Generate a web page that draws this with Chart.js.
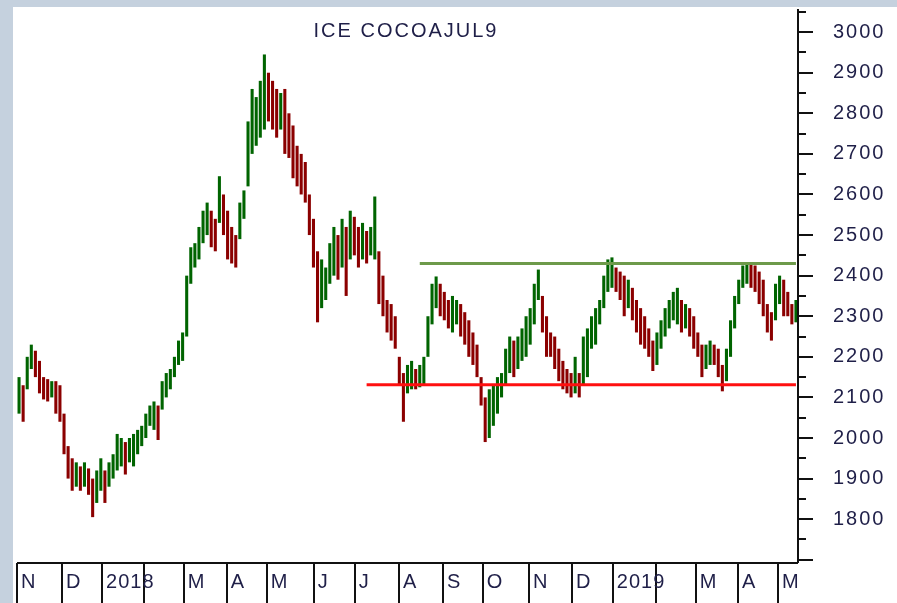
<!DOCTYPE html>
<html>
<head>
<meta charset="utf-8">
<script src="https://cdn.jsdelivr.net/npm/chart.js@4/dist/chart.umd.min.js"></script>
<style>
  html, body { margin: 0; padding: 0; background: #c5d1de; }
  canvas { display: block; }
</style>
</head>
<body>
<canvas id="cocoaChart" width="897" height="603"></canvas>
<script>
// ===== DATA (one bar = ~2 trading days) =====
const chartTitle = 'ICE COCOAJUL9';

const barLows = [
  2060, 2040, 2120, 2170, 2150, 2110, 2095, 2090, 2100, 2060,
  2040, 1960, 1900, 1870, 1880, 1870, 1880, 1860, 1805, 1840,
  1870, 1840, 1880, 1900, 1920, 1930, 1910, 1940, 1930, 1960,
  1980, 2000, 2030, 2020, 1995, 2070, 2100, 2120, 2150, 2180,
  2190, 2250, 2380, 2420, 2440, 2480, 2500, 2470, 2460, 2530,
  2500, 2440, 2430, 2420, 2490, 2540, 2620, 2700, 2720, 2740,
  2760, 2780, 2760, 2740, 2760, 2700, 2690, 2640, 2620, 2600,
  2580, 2500, 2420, 2285, 2320, 2340, 2380, 2400, 2390, 2420,
  2350, 2440, 2450, 2420, 2440, 2430, 2450, 2440, 2330, 2300,
  2260, 2240, 2220, 2130, 2040, 2110, 2120, 2120, 2125, 2130,
  2200, 2280, 2320, 2300, 2290, 2270, 2260, 2280, 2250, 2230,
  2200, 2180, 2150, 2080, 1990, 2000, 2030, 2060, 2100, 2130,
  2160, 2150, 2170, 2190, 2200, 2230, 2280, 2340, 2260, 2200,
  2200, 2170, 2140, 2120, 2110, 2100, 2110, 2100, 2130, 2150,
  2220, 2230, 2280, 2320, 2360, 2370, 2360, 2340, 2300, 2320,
  2290, 2260, 2230, 2220, 2200, 2165, 2180, 2220, 2250, 2270,
  2290, 2280, 2260, 2270, 2250, 2220, 2200, 2150, 2170, 2180,
  2180, 2150, 2115, 2140, 2200, 2270, 2330, 2370, 2380, 2370,
  2360, 2330, 2300, 2260, 2240, 2290, 2330, 2300, 2300, 2280,
  2285
];

const barHighs = [
  2150, 2130, 2200, 2230, 2215, 2190, 2150, 2145, 2140, 2140,
  2130, 2060, 1980, 1950, 1940, 1930, 1940, 1925, 1900, 1920,
  1950, 1920, 1940, 1960, 2010, 2000, 1990, 2000, 2010, 2020,
  2030, 2060, 2080, 2090, 2080, 2140, 2160, 2170, 2200, 2240,
  2260, 2400, 2470, 2480, 2520, 2560, 2580, 2560, 2540, 2645,
  2600, 2560, 2520, 2500, 2580, 2610, 2780, 2860, 2840, 2880,
  2945, 2900, 2880, 2860, 2850, 2860, 2800, 2770, 2720, 2700,
  2680, 2600, 2540, 2460, 2440, 2420, 2480, 2520, 2500, 2540,
  2520, 2560, 2545, 2520, 2530, 2510, 2520, 2595, 2460, 2400,
  2340, 2330, 2300, 2200, 2160, 2180, 2190, 2170, 2180, 2200,
  2300, 2380, 2398, 2380, 2360, 2340, 2350, 2340, 2330, 2310,
  2290, 2260, 2230, 2150, 2100, 2120, 2130, 2150, 2160, 2220,
  2250, 2240, 2250, 2270, 2300, 2320, 2380, 2415, 2350, 2300,
  2260, 2250, 2220, 2190, 2170, 2160, 2200, 2160, 2250, 2270,
  2300, 2320, 2340, 2400, 2440, 2445, 2420, 2410, 2400, 2390,
  2370, 2340, 2320, 2300, 2270, 2240, 2260, 2290, 2320, 2340,
  2360, 2370, 2340, 2330, 2320, 2300, 2260, 2230, 2230, 2240,
  2230, 2220, 2180, 2220, 2290, 2350, 2390, 2425, 2432, 2430,
  2425, 2410, 2390, 2330, 2310, 2380, 2400, 2390, 2360, 2330,
  2340
];

// month boundaries, in bar slots from the left edge
const monthStarts = [0, 11.0, 20.8, 31.05, 40.8, 51.3, 61.1, 72.6, 82.6, 93.4,
                     104.2, 113.9, 125.2, 135.7, 145.7, 156.2, 166.0, 176.3, 186.1];
const monthLabels = ['N', 'D', '2018', '', 'M', 'A', 'M', 'J', 'J', 'A',
                     'S', 'O', 'N', 'D', '2019', '', 'M', 'A', 'M'];

// horizontal levels drawn on the chart
const supportLevel = 2131;
const supportStart = 85;
const resistanceLevel = 2430;
const resistanceStart = 98;

// ===== SETUP =====
const labels = barLows.map((_, i) => String(i));
const ranges = barLows.map((lo, i) => [lo, barHighs[i]]);
const barColors = ranges.map((r, i) => {
    if (i === 0) return '#006400';
    const mid = (r[0] + r[1]) / 2;
    const prev = (ranges[i - 1][0] + ranges[i - 1][1]) / 2;
    return mid >= prev ? '#006400' : '#8b0000';
});
const supportData = labels.map((_, i) => i >= supportStart ? supportLevel : null);
const resistanceData = labels.map((_, i) => i >= resistanceStart ? resistanceLevel : null);

const FONT = '"Liberation Sans", Arial, sans-serif';
const TEXT_COLOR = '#1f1f48';

// background, frame, axes, month band
const framePlugin = {
    id: 'frame',
    beforeDraw(chart) {
        const ctx = chart.ctx;
        ctx.save();
        ctx.fillStyle = '#c5d1de';
        ctx.fillRect(0, 0, chart.width, chart.height);
        ctx.fillStyle = '#ffffff';
        ctx.fillRect(13, 7, chart.width - 13, chart.height - 7);
        ctx.restore();
        ctx.letterSpacing = '2px';
    },
    afterDraw(chart) {
        const ctx = chart.ctx;
        const area = chart.chartArea;
        const x = chart.scales.x;
        const y = chart.scales.y;
        ctx.save();
        ctx.strokeStyle = '#111111';
        ctx.lineWidth = 2;

        // right axis line + ticks
        ctx.beginPath();
        ctx.moveTo(area.right, area.top);
        ctx.lineTo(area.right, area.bottom);
        for (let v = 1700; v <= 3050; v += 50) {
            const py = Math.round(y.getPixelForValue(v));
            const len = v % 100 === 0 ? 15 : 8;
            ctx.moveTo(area.right, py);
            ctx.lineTo(area.right + len, py);
        }
        // bottom band
        ctx.moveTo(area.left, area.bottom);
        ctx.lineTo(area.right, area.bottom);
        monthStarts.forEach(m => {
            const px = Math.round(x.getPixelForValue(m - 0.5));
            ctx.moveTo(px, area.bottom);
            ctx.lineTo(px, chart.height);
        });
        ctx.stroke();

        // month labels
        ctx.fillStyle = TEXT_COLOR;
        ctx.font = '20px ' + FONT;
        ctx.letterSpacing = '1px';
        ctx.textBaseline = 'middle';
        ctx.textAlign = 'left';
        monthStarts.forEach((m, i) => {
            if (!monthLabels[i]) return;
            const px = x.getPixelForValue(m - 0.5);
            ctx.fillText(monthLabels[i], px + 4, area.bottom + 19);
        });

        // title
        ctx.font = '20px ' + FONT;
        ctx.letterSpacing = '2px';
        ctx.textAlign = 'center';
        ctx.fillText(chartTitle, 406, 31);
        ctx.restore();
    }
};

new Chart(document.getElementById('cocoaChart'), {
    data: {
        labels: labels,
        datasets: [
            {
                type: 'line',
                data: supportData,
                borderColor: '#ff1010',
                borderWidth: 3,
                pointRadius: 0,
                order: 0
            },
            {
                type: 'line',
                data: resistanceData,
                borderColor: '#6d9a4a',
                borderWidth: 3,
                pointRadius: 0,
                order: 0
            },
            {
                type: 'bar',
                data: ranges,
                backgroundColor: barColors,
                borderWidth: 0,
                barPercentage: 0.75,
                categoryPercentage: 1,
                order: 1
            }
        ]
    },
    options: {
        responsive: false,
        animation: false,
        layout: { padding: { left: 17, top: 9, right: 0, bottom: 0 } },
        plugins: {
            legend: { display: false },
            tooltip: { enabled: false }
        },
        scales: {
            x: {
                type: 'category',
                grid: { display: false },
                border: { display: false },
                ticks: { display: false },
                afterFit: s => { s.height = 40; s.paddingLeft = 0; s.paddingRight = 0; }
            },
            y: {
                position: 'right',
                min: 1692,
                max: 3057,
                grid: { display: false, drawTicks: false },
                border: { display: false },
                afterFit: s => { s.width = 99; s.paddingTop = 0; s.paddingBottom = 0; },
                ticks: {
                    stepSize: 100,
                    autoSkip: false,
                    padding: 35,
                    color: TEXT_COLOR,
                    font: { family: FONT, size: 20 },
                    callback: v => (v % 100 === 0 && v >= 1800 && v <= 3000) ? v : ''
                }
            }
        }
    },
    plugins: [framePlugin]
});
</script>
</body>
</html>
